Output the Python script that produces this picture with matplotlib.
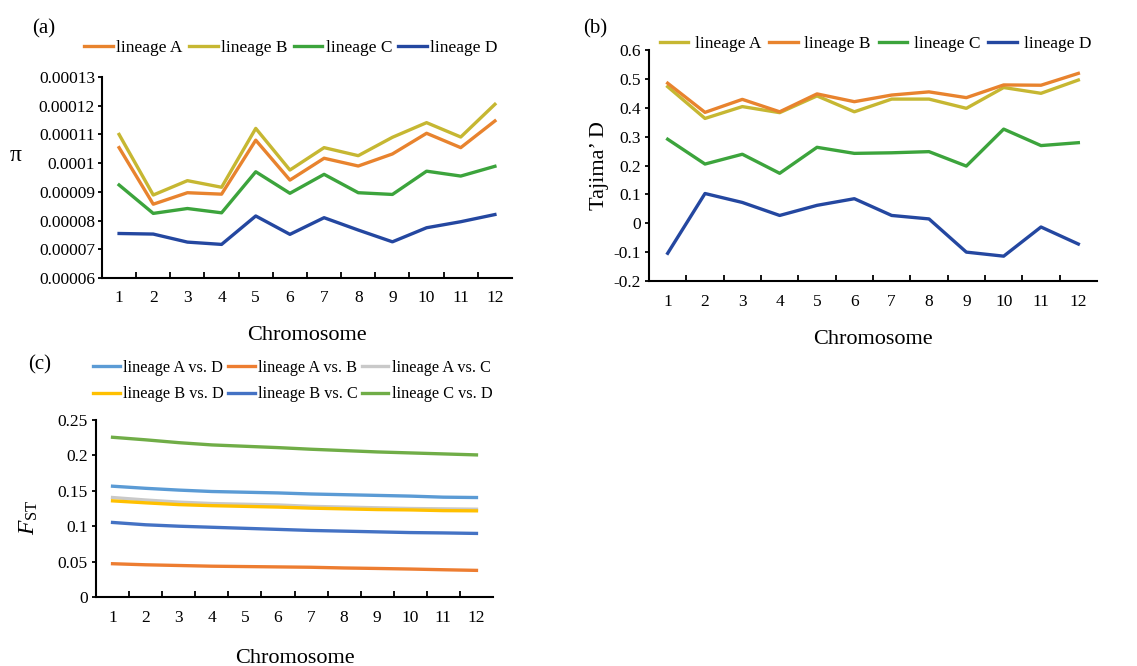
import matplotlib
matplotlib.use("Agg")
import matplotlib.pyplot as plt

plt.rcParams['font.family'] = ['Liberation Serif', 'DejaVu Serif']
plt.rcParams['mathtext.fontset'] = 'custom'
plt.rcParams['mathtext.rm'] = 'Liberation Serif'
plt.rcParams['mathtext.it'] = 'Liberation Serif:italic'

chromosomes = list(range(1, 13))

# (a) nucleotide diversity (pi) per chromosome
pi_lineage_A = [0.0001054, 0.0000857, 0.0000897, 0.0000892, 0.0001080, 0.0000941,
                0.0001017, 0.0000990, 0.0001032, 0.0001104, 0.0001054, 0.0001147]
pi_lineage_B = [0.0001100, 0.0000889, 0.0000939, 0.0000916, 0.0001121, 0.0000976,
                0.0001054, 0.0001026, 0.0001090, 0.0001141, 0.0001091, 0.0001205]
pi_lineage_C = [0.0000924, 0.0000825, 0.0000842, 0.0000827, 0.0000970, 0.0000895,
                0.0000961, 0.0000897, 0.0000891, 0.0000972, 0.0000955, 0.0000989]
pi_lineage_D = [0.0000755, 0.0000753, 0.0000725, 0.0000717, 0.0000816, 0.0000752,
                0.0000810, 0.0000767, 0.0000726, 0.0000775, 0.0000796, 0.0000821]
pi_ticks = [0.00006, 0.00007, 0.00008, 0.00009, 0.0001, 0.00011, 0.00012, 0.00013]
pi_ticklabels = ['0.00006', '0.00007', '0.00008', '0.00009', '0.0001',
                 '0.00011', '0.00012', '0.00013']

# (b) Tajima's D per chromosome
td_lineage_A = [0.473, 0.363, 0.404, 0.383, 0.441, 0.386, 0.430, 0.430, 0.398, 0.470, 0.450, 0.496]
td_lineage_B = [0.485, 0.384, 0.429, 0.386, 0.448, 0.421, 0.444, 0.455, 0.435, 0.479, 0.478, 0.519]
td_lineage_C = [0.291, 0.205, 0.239, 0.173, 0.263, 0.242, 0.244, 0.248, 0.198, 0.326, 0.269, 0.279]
td_lineage_D = [-0.104, 0.103, 0.072, 0.027, 0.062, 0.085, 0.027, 0.015, -0.100, -0.114, -0.013, -0.072]
td_ticks = [-0.2, -0.1, 0, 0.1, 0.2, 0.3, 0.4, 0.5, 0.6]
td_ticklabels = ['-0.2', '-0.1', '0', '0.1', '0.2', '0.3', '0.4', '0.5', '0.6']

# (c) pairwise FST per chromosome
fst_A_vs_D = [0.1565, 0.1535, 0.1510, 0.1490, 0.1480, 0.1470, 0.1455, 0.1445, 0.1435, 0.1425, 0.1410, 0.1405]
fst_A_vs_B = [0.0470, 0.0455, 0.0445, 0.0435, 0.0430, 0.0425, 0.0420, 0.0410, 0.0403, 0.0395, 0.0385, 0.0376]
fst_A_vs_C = [0.1405, 0.1370, 0.1340, 0.1320, 0.1310, 0.1300, 0.1280, 0.1270, 0.1260, 0.1250, 0.1245, 0.1240]
fst_B_vs_D = [0.1358, 0.1330, 0.1305, 0.1290, 0.1280, 0.1270, 0.1255, 0.1245, 0.1235, 0.1230, 0.1220, 0.1217]
fst_B_vs_C = [0.1053, 0.1020, 0.1000, 0.0985, 0.0970, 0.0955, 0.0940, 0.0930, 0.0920, 0.0910, 0.0905, 0.0898]
fst_C_vs_D = [0.2256, 0.2220, 0.2180, 0.2148, 0.2129, 0.2110, 0.2087, 0.2068, 0.2049, 0.2035, 0.2021, 0.2007]
fst_ticks = [0, 0.05, 0.1, 0.15, 0.2, 0.25]
fst_ticklabels = ['0', '0.05', '0.1', '0.15', '0.2', '0.25']

ORANGE = '#E8832E'
OLIVE = '#C6B732'
GREEN = '#3CA43C'
NAVY = '#2447A0'

FS = 12.5
LW = 2.4


def style_axes(ax, ticks, ticklabels, ylim, ypad=3):
    for side in ('top', 'right'):
        ax.spines[side].set_visible(False)
    for side in ('left', 'bottom'):
        ax.spines[side].set_linewidth(1.5)
        ax.spines[side].set_color('black')
    ax.set_xlim(0.5, 12.5)
    ax.set_ylim(*ylim)
    ax.set_yticks(ticks)
    ax.set_yticklabels(ticklabels, fontsize=FS)
    # category axis: labels centred, tick marks on the boundaries
    ax.set_xticks(chromosomes)
    ax.set_xticklabels([str(c) for c in chromosomes], fontsize=FS)
    ax.set_xticks([c + 0.5 for c in chromosomes[:-1]], minor=True)
    ax.tick_params(axis='x', which='major', length=0, pad=9)
    ax.tick_params(axis='x', which='minor', direction='in', length=4, width=1.3)
    ax.tick_params(axis='y', direction='out', length=3, width=1.3, pad=ypad)


fig = plt.figure(figsize=(11.37, 6.66), dpi=100)

# ---- (a) ----
ax1 = fig.add_axes([102 / 1137, 1 - 278 / 666, 410 / 1137, 201 / 666])
ax1.plot(chromosomes, pi_lineage_A, color=ORANGE, lw=LW, label='lineage A')
ax1.plot(chromosomes, pi_lineage_B, color=OLIVE, lw=LW, label='lineage B')
ax1.plot(chromosomes, pi_lineage_C, color=GREEN, lw=LW, label='lineage C')
ax1.plot(chromosomes, pi_lineage_D, color=NAVY, lw=LW, label='lineage D')
style_axes(ax1, pi_ticks, pi_ticklabels, (0.00006, 0.00013), ypad=2)
ax1.set_xlabel('Chromosome', fontsize=16, labelpad=14)
ax1.set_ylabel('π', fontsize=17, rotation=0, va='center', ha='center')
ax1.yaxis.set_label_coords(-0.21, 0.607)
ax1.legend(loc='lower left', bbox_to_anchor=(-0.043, 1.105), ncol=4, frameon=False,
           fontsize=FS, handlelength=1.65, handletextpad=0.2, columnspacing=0.35,
           borderaxespad=0, borderpad=0)
fig.text(32 / 1137, 1 - 29 / 666, '(a)', fontsize=15, va='center', ha='left')

# ---- (b) ----
ax2 = fig.add_axes([649 / 1137, 1 - 281 / 666, 448 / 1137, 231 / 666])
ax2.plot(chromosomes, td_lineage_A, color=OLIVE, lw=LW, label='lineage A')
ax2.plot(chromosomes, td_lineage_B, color=ORANGE, lw=LW, label='lineage B')
ax2.plot(chromosomes, td_lineage_C, color=GREEN, lw=LW, label='lineage C')
ax2.plot(chromosomes, td_lineage_D, color=NAVY, lw=LW, label='lineage D')
style_axes(ax2, td_ticks, td_ticklabels, (-0.2, 0.6))
ax2.set_xlabel('Chromosome', fontsize=16, labelpad=15)
ax2.set_ylabel('Tajima’ D', fontsize=16, labelpad=3)
ax2.legend(loc='lower left', bbox_to_anchor=(0.024, 0.99), ncol=4, frameon=False,
           fontsize=FS, handlelength=1.65, handletextpad=0.38, columnspacing=0.45,
           borderaxespad=0, borderpad=0)
fig.text(583 / 1137, 1 - 29 / 666, '(b)', fontsize=15, va='center', ha='left')

# ---- (c) ----
FS_C = 11.7
ax3 = fig.add_axes([96 / 1137, 1 - 597 / 666, 397 / 1137, 177 / 666])
l_AD, = ax3.plot(chromosomes, fst_A_vs_D, color='#5B9BD5', lw=LW, label='lineage A vs. D')
l_AB, = ax3.plot(chromosomes, fst_A_vs_B, color='#ED7D31', lw=LW, label='lineage A vs. B')
l_AC, = ax3.plot(chromosomes, fst_A_vs_C, color='#C9C9C9', lw=LW, label='lineage A vs. C')
l_BD, = ax3.plot(chromosomes, fst_B_vs_D, color='#FFC000', lw=LW, label='lineage B vs. D')
l_BC, = ax3.plot(chromosomes, fst_B_vs_C, color='#4472C4', lw=LW, label='lineage B vs. C')
l_CD, = ax3.plot(chromosomes, fst_C_vs_D, color='#70AD47', lw=LW, label='lineage C vs. D')
style_axes(ax3, fst_ticks, fst_ticklabels, (0, 0.25))
ax3.set_xlabel('Chromosome', fontsize=16, labelpad=17)
ax3.set_ylabel(r'$F_{\mathrm{ST}}$', fontsize=17, va='center', ha='center')
ax3.yaxis.set_label_coords(-0.17, 0.452)
# legend filled row by row
handles = [l_AD, l_BD, l_AB, l_BC, l_AC, l_CD]
ax3.legend(handles=handles, labels=[h.get_label() for h in handles],
           loc='lower left', bbox_to_anchor=(-0.008, 1.1), ncol=3, frameon=False,
           fontsize=FS_C, handlelength=1.65, handletextpad=0.2, columnspacing=0.25,
           labelspacing=0.66, borderaxespad=0, borderpad=0)
fig.text(28 / 1137, 1 - 365 / 666, '(c)', fontsize=15, va='center', ha='left')

fig.savefig('out.png', dpi=100)
